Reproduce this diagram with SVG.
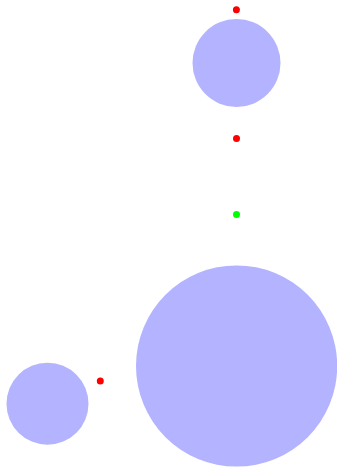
<svg xmlns="http://www.w3.org/2000/svg" width="337" height="468" viewBox="0 0 337 468">
<style>
.c{fill:#b3b3ff}
.r{fill:#ff0000}
.g{fill:#00ff00}
</style>
<rect width="337" height="468" fill="#ffffff"/>
<g id="circle-top"><circle class="c" cx="236.5" cy="63" r="44"/></g>
<g id="circle-big"><circle class="c" cx="236.6" cy="366" r="100.6"/></g>
<g id="circle-small"><circle class="c" cx="47.5" cy="403.7" r="41"/></g>
<g id="dot-1"><circle class="r" cx="236.4" cy="9.8" r="3.5"/></g>
<g id="dot-2"><circle class="r" cx="236.5" cy="138.5" r="3.5"/></g>
<g id="dot-3"><circle class="g" cx="236.5" cy="214.5" r="3.5"/></g>
<g id="dot-4"><circle class="r" cx="100.3" cy="381" r="3.5"/></g>
<g id="connectors"></g>
</svg>
